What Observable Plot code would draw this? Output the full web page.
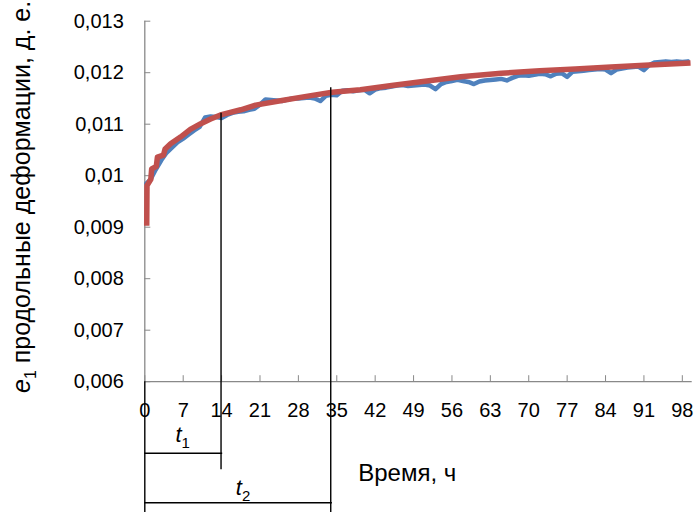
<!DOCTYPE html>
<html><head><meta charset="utf-8">
<script src="https://cdn.jsdelivr.net/npm/d3@7"></script>
<script src="https://cdn.jsdelivr.net/npm/@observablehq/plot@0.6"></script>
<style>body{margin:0;background:#fff} svg{display:block}</style>
</head><body><div id="chart"></div>
<script>
// Measured strain (blue), hours
const timeHours = [0.3,1,2,3,4,5,6,7,8,9,10,11,12,13,14,15,16,17,18,19,20,21,22,23,24,25,26,27,28,29,30,31,32,33,34,35,36,37,38,39,40,41,42,43,44,45,46,47,48,49,50,51,52,53,54,55,56,57,58,59,60,61,62,63,64,65,66,67,68,69,70,71,72,73,74,75,76,77,78,79,80,81,82,83,84,85,86,87,88,89,90,91,92,93,94,95,96,97,98,99];
const strainMeasured = [0.00985,0.00992,0.01012,0.01030,0.01045,0.01055,0.01065,0.01072,0.01080,0.01088,0.01095,0.01113,0.01115,0.01114,0.01112,0.01118,0.01122,0.01124,0.01125,0.01128,0.01130,0.01138,0.01148,0.01147,0.01146,0.01145,0.01148,0.01150,0.01150,0.01151,0.01152,0.01150,0.01145,0.01155,0.01157,0.01156,0.01165,0.01166,0.01164,0.01166,0.01167,0.01160,0.01167,0.01170,0.01171,0.01173,0.01175,0.01176,0.01174,0.01175,0.01176,0.01177,0.01175,0.01168,0.01178,0.01182,0.01184,0.01186,0.01184,0.01182,0.01178,0.01183,0.01185,0.01186,0.01187,0.01188,0.01185,0.01190,0.01194,0.01195,0.01194,0.01196,0.01198,0.01197,0.01193,0.01198,0.01199,0.01192,0.01202,0.01203,0.01204,0.01205,0.01206,0.01207,0.01206,0.01199,0.01206,0.01208,0.01210,0.01211,0.01212,0.01205,0.01215,0.01220,0.01221,0.01222,0.01221,0.01222,0.01221,0.01222];
// Fitted curve (red)
const fitTime = [0.35,0.4,1.1,1.25,2.1,2.3,3.4,3.7,4.7,6.5,8.3,10.2,12,13.8,17.5,20.2,25,30,34.2,39.3,45,50,57.6,65,72,78.5,85,92,99.5];
const fitStrain = [0.00903,0.00981,0.00993,0.01013,0.01018,0.01036,0.01040,0.01052,0.01062,0.01075,0.01090,0.01101,0.01110,0.01118,0.01128,0.01137,0.01146,0.01155,0.01162,0.01167,0.01175,0.01182,0.01192,0.01199,0.01204,0.01207,0.01211,0.01215,0.01219];
const xTicks = [0,7,14,21,28,35,42,49,56,63,70,77,84,91,98];
const yTicks = [0.006,0.007,0.008,0.009,0.010,0.011,0.012,0.013];
// Annotation times t1, t2 (hours) and their curve levels
const markTimes = [13.9, 33.9];
const markTop = [0.011214, 0.011707];
const markBottom = [0.00429, 0.00340];
const markBar = [0.004612, 0.003649];
const markLabelLevel = [0.004825, 0.00379];
const markLabelTime = [7.0, 18.0];
const markNames = ["1", "2"];
const xLabel = "Время, ч";
const yLabelMain = " продольные деформации, д. е.";

const FONT = "Liberation Sans, Arial, sans-serif";
const AX = "#898989";
const fmt = d => String(d).replace(".", ",");

const measured = timeHours.map((t, i) => ({t, v: strainMeasured[i]}));
const fit = fitTime.map((t, i) => ({t, v: fitStrain[i]}));

const plot = Plot.plot({
  width: 695, height: 512,
  marginLeft: 144.3, marginRight: 3.3, marginTop: 20.7, marginBottom: 130.8,
  style: {fontFamily: FONT, fontSize: "20px", color: "#000", background: "#fff"},
  x: {domain: [0, 99.8]},
  y: {domain: [0.006, 0.013]},
  marks: [
    Plot.ruleX([0], {stroke: AX, strokeWidth: 1.3}),
    Plot.ruleY([0.006], {stroke: AX, strokeWidth: 1.3}),
    Plot.axisX({ticks: xTicks, tickSize: -6, tickPadding: 27, stroke: AX, label: null, tickFormat: d => String(d), fill: "#000"}),
    Plot.axisY({ticks: yTicks, tickSize: -6, tickPadding: 27, stroke: AX, label: null, tickFormat: fmt, fill: "#000"}),
    Plot.line(measured, {x: "t", y: "v", stroke: "#4F81BD", strokeWidth: 4.5, strokeLinejoin: "round", strokeLinecap: "round"}),
    Plot.line(fit, {x: "t", y: "v", stroke: "#C0504D", strokeWidth: 5.5, strokeLinejoin: "round", strokeLinecap: "butt"}),
    // annotation leaders
    Plot.ruleX(markTimes.map((t, i) => ({t, y1: markTop[i], y2: markBottom[i]})), {x: "t", y1: "y1", y2: "y2", stroke: "#000", strokeWidth: 1.4}),
    Plot.ruleX([{t: 0, y1: 0.006, y2: 0.00338}], {x: "t", y1: "y1", y2: "y2", stroke: "#000", strokeWidth: 1.4}),
    Plot.ruleY(markTimes.map((t, i) => ({v: markBar[i], x2: t + 0.3})), {y: "v", x1: 0, x2: "x2", stroke: "#000", strokeWidth: 1.4})
  ]
});

const svg = d3.select(plot);
const xs = plot.scale("x"), ys = plot.scale("y");

// t1, t2 labels
markNames.forEach((n, i) => {
  const tx = svg.append("text")
    .attr("x", xs.apply(markLabelTime[i])).attr("y", ys.apply(markLabelLevel[i]))
    .attr("text-anchor", "middle").attr("font-family", FONT).attr("font-size", 22).attr("fill", "#000");
  tx.append("tspan").attr("font-style", "italic").text("t");
  tx.append("tspan").attr("font-size", 15).attr("dy", 6).text(n);
});

// x axis title
svg.append("text")
  .attr("x", xs.apply(39)).attr("y", ys.apply(0.004064))
  .attr("text-anchor", "start")
  .attr("font-family", FONT).attr("font-size", 24).attr("fill", "#000")
  .text(xLabel);

// y axis title
const yt = svg.append("text")
  .attr("transform", `translate(30,${(20.7 + 381.2) / 2 - 4}) rotate(-90)`)
  .attr("text-anchor", "middle").attr("font-family", FONT).attr("font-size", 25).attr("fill", "#000");
yt.append("tspan").attr("font-style", "italic").text("e");
yt.append("tspan").attr("font-size", 16).attr("dy", 6).text("1");
yt.append("tspan").attr("dy", -6).text(yLabelMain);

document.getElementById("chart").appendChild(plot);
</script>
</body></html>
